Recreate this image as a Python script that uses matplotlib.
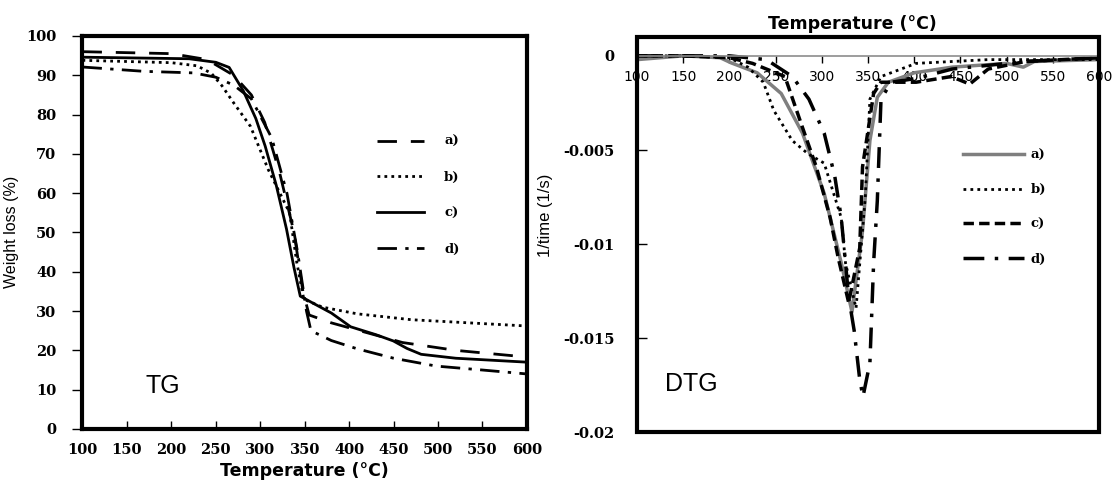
import matplotlib.pyplot as plt
from matplotlib.patches import Rectangle
import numpy as np

# TG curves (Weight loss %)
tg_a_t = [100, 200, 240, 270, 290, 305, 322, 338, 348, 355, 380, 420, 460, 520, 600]
tg_a_w = [96, 95.5, 94, 90, 85, 78, 65, 50, 35, 29, 27, 24.5, 22, 20, 18.3]
tg_b_t = [100, 200, 229, 245, 257, 270, 289, 309, 333, 341, 349, 370, 409, 470, 600]
tg_b_w = [93.8, 93.2, 92.4, 90.5, 87.3, 83, 77, 66, 55, 42.5, 33, 31, 29.3, 27.8, 26.2]
tg_c_t = [100, 220, 250, 265, 281, 295, 305.5, 318, 329.5, 338, 345, 357, 380, 401.7, 430, 449.7, 465, 481, 520, 600]
tg_c_w = [94.6, 94.2, 93.3, 92, 86, 79, 72, 62, 50.9, 41, 33.8, 32.3, 29.5, 26, 24, 22.4, 20.5, 19, 18, 17]
tg_d_t = [100, 169, 225, 250, 270, 290, 313, 330, 342, 352, 357, 380, 409, 450, 498, 550, 600]
tg_d_w = [92.1, 91, 90.6, 89.5, 87.5, 84, 74, 60, 45, 30, 25, 22.5, 20.4, 18, 16, 15, 14]

# DTG curves (1/time, 1/s)
dtg_a_t = [100, 150, 190, 201.8, 230, 256, 279, 302.5, 321, 332.6, 344, 352, 360, 372, 400, 441, 500, 518, 530, 600]
dtg_a_v = [-0.0002, 0, -0.0001, -0.00037, -0.0009, -0.002, -0.0041, -0.0073, -0.011, -0.0136, -0.0093, -0.0045,
           -0.0022, -0.0014, -0.0009, -0.0006, -0.0004, -0.0006, -0.0003, -0.0002]
dtg_b_t = [100, 150, 200, 220, 236.6, 248, 268, 285, 302.5, 321, 325.6, 337, 347, 352, 364, 402, 480, 600]
dtg_b_v = [0, 0, -0.0001, -0.0006, -0.0014, -0.0029, -0.0045, -0.0052, -0.0057, -0.0086, -0.011, -0.0134,
           -0.0075, -0.0023, -0.0011, -0.0004, -0.0002, -0.0002]
dtg_c_t = [100, 150, 200, 225, 260, 279, 294, 309, 317.6, 329, 341, 344, 356, 364, 402, 440, 460, 480, 520, 600]
dtg_c_v = [0, 0, -0.0001, -0.0004, -0.0011, -0.0038, -0.0059, -0.0086, -0.0107, -0.0131, -0.0102, -0.0059,
           -0.002, -0.0014, -0.0014, -0.0011, -0.0015, -0.0007, -0.0003, -0.0001]
dtg_d_t = [100, 150, 200, 240, 268, 286, 302.5, 314, 321, 329, 335, 341, 344.5, 352, 356, 360, 364, 375, 402, 441, 520, 600]
dtg_d_v = [0, 0, 0, -0.0002, -0.0011, -0.0023, -0.0041, -0.0064, -0.0086, -0.0128, -0.0146, -0.0172, -0.0181,
           -0.0163, -0.011, -0.0077, -0.0023, -0.0014, -0.0012, -0.0007, -0.0003, -0.0001]

x_ticks = np.arange(100, 601, 50)
tg_yticks = np.arange(0, 101, 10)
dtg_yticks = [0, -0.005, -0.01, -0.015, -0.02]
dtg_ylabels = ["0", "-0.005", "-0.01", "-0.015", "-0.02"]
labels = ["a)", "b)", "c)", "d)"]

tick_font = dict(family="DejaVu Serif", weight="bold", size=10.5)
narrow = ["Liberation Sans Narrow", "Liberation Sans"]
leg_font = dict(family="DejaVu Serif", weight="bold", size=9.5)

fig = plt.figure(figsize=(11.19, 4.82), dpi=100)
ax1 = fig.add_axes([0.0737, 0.1100, 0.3972, 0.8154])
ax2 = fig.add_axes([0.5693, 0.1027, 0.4129, 0.8205])

# ---- TG ----
ax1.plot(tg_a_t, tg_a_w, color="black", lw=2, dashes=(7, 5), label=labels[0])
ax1.plot(tg_b_t, tg_b_w, color="black", lw=2, dashes=(1, 1.5), label=labels[1])
ax1.plot(tg_c_t, tg_c_w, color="black", lw=2, label=labels[2])
ax1.plot(tg_d_t, tg_d_w, color="black", lw=2, dashes=(7, 3, 1.2, 3), label=labels[3])
ax1.set_xlim(100, 600)
ax1.set_ylim(0, 100)
ax1.set_xticks(x_ticks)
ax1.set_yticks(tg_yticks)
ax1.set_xticklabels([str(v) for v in x_ticks], fontdict=tick_font)
ax1.set_yticklabels([str(v) for v in tg_yticks], fontdict=tick_font)
ax1.tick_params(axis="x", direction="in", length=6, width=1, pad=10)
ax1.tick_params(axis="y", direction="out", length=7, width=1, pad=12)
for s in ax1.spines.values():
    s.set_linewidth(3)
ax1.set_xlabel("Temperature (°C)", fontsize=12.5, fontweight="bold", family="DejaVu Sans")
ax1.xaxis.set_label_coords(0.5, -0.085)
ax1.set_ylabel("Weight loss (%)", fontsize=11.5, family=narrow)
ax1.yaxis.set_label_coords(-0.142, 0.501)
ax1.text(0.141, 0.109, "TG", transform=ax1.transAxes, fontsize=18, family="Liberation Sans", va="center")
ax1.legend(loc="upper left", bbox_to_anchor=(0.6625, 0.747), frameon=False, borderpad=0, borderaxespad=0,
           handlelength=3.6, handletextpad=1.5, labelspacing=1.72, prop=leg_font)

# ---- DTG ----
ax2.plot(dtg_a_t, dtg_a_v, color="#7f7f7f", lw=2.5, label=labels[0])
ax2.plot(dtg_b_t, dtg_b_v, color="black", lw=2, dashes=(1, 1.5), label=labels[1])
ax2.plot(dtg_c_t, dtg_c_v, color="black", lw=2.5, dashes=(3, 1.5), label=labels[2])
ax2.plot(dtg_d_t, dtg_d_v, color="black", lw=2.5, dashes=(6, 3, 1, 3), label=labels[3])
ax2.set_xlim(100, 600)
ax2.set_ylim(-0.02, 0.001)
ax2.set_xticks(x_ticks)
ax2.set_yticks(dtg_yticks)
ax2.set_xticklabels([str(v) for v in x_ticks], fontdict=tick_font)
ax2.set_yticklabels(dtg_ylabels, fontdict=tick_font)
for side in ["top", "right", "left"]:
    ax2.spines[side].set_visible(False)
ax2.spines["bottom"].set_position(("data", 0))
ax2.spines["bottom"].set_color("#8c8c8c")
ax2.spines["bottom"].set_linewidth(1.2)
ax2.add_patch(Rectangle((0, 0), 1, 1, transform=ax2.transAxes, fill=False, lw=3, ec="black", clip_on=False, zorder=5))
ax2.tick_params(axis="x", direction="out", length=5, width=1, pad=5, color="black")
ax2.tick_params(axis="y", direction="in", length=7, width=1, pad=16)
ax2.set_title("Temperature (°C)", fontsize=12.5, fontweight="bold", family="DejaVu Sans", pad=6, x=0.465)
ax2.set_ylabel("1/time (1/s)", fontsize=12, family=narrow)
ax2.yaxis.set_label_coords(-0.182, 0.55)
ax2.text(0.0606, 0.123, "DTG", transform=ax2.transAxes, fontsize=18, family="Liberation Sans", va="center")
ax2.legend(loc="upper left", bbox_to_anchor=(0.7056, 0.718), frameon=False, borderpad=0, borderaxespad=0,
           handlelength=4.6, handletextpad=0.5, labelspacing=1.65, prop=leg_font)

fig.savefig("out.png", dpi=100)
